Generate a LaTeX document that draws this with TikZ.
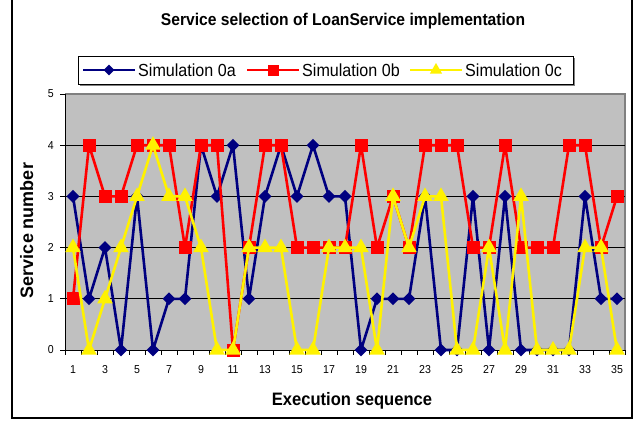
\documentclass[tikz,border=0pt]{standalone}
\usepackage{fontspec}
\setmainfont{Liberation Sans}[FakeStretch=0.92]
\newfontfamily\uprightlabel{Liberation Sans}
\usetikzlibrary{shapes.geometric}

\definecolor{simnavy}{HTML}{000080}
\definecolor{plotgray}{HTML}{C0C0C0}
\definecolor{framegray}{HTML}{808080}

\begin{document}
\begin{tikzpicture}[x=1pt,y=-1pt,
    sim a/.style={simnavy, line width=2.6pt, line join=round},
    sim b/.style={red, line width=2.6pt, line join=round},
    sim c/.style={yellow, line width=2.6pt, line join=round},
    mark a/.style={diamond, fill=simnavy, inner sep=0pt, minimum size=13pt},
    mark b/.style={rectangle, fill=red, inner sep=0pt, minimum size=13pt},
    mark c/.style={regular polygon, regular polygon sides=3, fill=yellow, inner sep=0pt, minimum size=18pt},
    ticklabel/.style={inner sep=0pt, font=\fontsize{11.5}{12}\selectfont},
    keytext/.style={inner sep=0pt, font=\fontsize{17.5}{19}\selectfont}]

% page and chart frame
\path[use as bounding box, fill=white] (0,0) rectangle (641,423);
\draw[line width=2pt] (12,-5) rectangle (632,418);

% title
\node[anchor=base, font=\bfseries\fontsize{17}{19}\selectfont] (title) at (343,26) {Service selection of LoanService implementation};

% legend (box with shadow, then the three keys)
\fill[framegray] (79.5,57.5) rectangle (574.5,85.5);
\draw[fill=white, line width=1pt] (78,56) rectangle (573,84);
\foreach \s/\lx/\ms in {a/83/11pt, b/247/11pt, c/410/14pt}
{
  \draw[sim \s] (\lx,70) -- (\lx+52,70);
  \node[mark \s, minimum size=\ms] (key \s) at (\lx+26,70) {};
  \node[keytext, anchor=west] (keytext \s) at (\lx+55,70) {Simulation 0\s};
}

% plot area: one unit = one execution / one service
\begin{scope}[shift={(65,350)}, x=16pt, y=51.2pt]
  \fill[plotgray] (0,0) rectangle (35,5);
  \draw[framegray, line width=2pt] (0,5) -- (35,5) -- (35,0);

  % gridlines
  \foreach \v in {1,...,4}
    \draw[line width=0.8pt] (0,\v) -- (35,\v);

  % axes
  \draw[line width=1pt] (0,5) -- (0,0) -- (35,0);

  % y ticks and labels
  \foreach \v in {0,...,5}
  {
    \draw[line width=1pt] (0,\v) -- ++(-5pt,0);
    \node[ticklabel, anchor=east] (ylab\v) at ([xshift=-11pt]0,\v) {\v};
  }

  % x ticks (between categories) and labels (odd only)
  \foreach \k in {0,...,35}
    \draw[line width=1pt] (\k,0) -- ++(0,-5pt);
  \foreach \i in {1,3,...,35}
    \node[ticklabel, anchor=north] (xlab\i) at ([yshift=-15pt]\i-0.5,0) {\i};

  % Simulation 0a
  \foreach \v [count=\i] in {3,1,2,0,3,0,1,1,4,3,4,1,3,4,3,4,3,3,0,1,1,1,3,0,0,3,0,3,0,0,0,0,3,1,1}
    \coordinate (a\i) at (\i-0.5,\v);
  \draw[sim a] (a1) \foreach \i in {2,...,35} { -- (a\i) };
  \foreach \i in {1,...,35}
    \node[mark a] (da\i) at (a\i) {};

  % Simulation 0b
  \foreach \v [count=\i] in {1,4,3,3,4,4,4,2,4,4,0,2,4,4,2,2,2,2,4,2,3,2,4,4,4,2,2,4,2,2,2,4,4,2,3}
    \coordinate (b\i) at (\i-0.5,\v);
  \draw[sim b] (b1) \foreach \i in {2,...,35} { -- (b\i) };
  \foreach \i in {1,...,35}
    \node[mark b] (db\i) at (b\i) {};

  % Simulation 0c
  \foreach \v [count=\i] in {2,0,1,2,3,4,3,3,2,0,0,2,2,2,0,0,2,2,2,0,3,2,3,3,0,0,2,0,3,0,0,0,2,2,0}
    \coordinate (c\i) at (\i-0.5,\v);
  \draw[sim c] (c1) \foreach \i in {2,...,35} { -- (c\i) };
  \foreach \i in {1,...,35}
    \node[mark c] (dc\i) at (c\i) {};
\end{scope}

% axis titles
\node[anchor=base, font=\bfseries\fontsize{18}{20}\selectfont] (xtitle) at (352,405) {Execution sequence};
\node[rotate=90, anchor=base, font=\uprightlabel\bfseries\fontsize{18}{20}\selectfont] (ytitle) at (33,230.5) {Service number};

\end{tikzpicture}
\end{document}
